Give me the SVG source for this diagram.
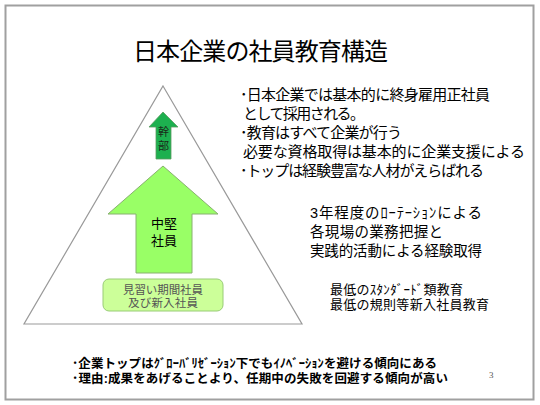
<svg xmlns="http://www.w3.org/2000/svg" width="540" height="405" viewBox="0 0 540 405">
<style>
text{font-family:"Liberation Sans","Noto Sans CJK JP","Noto Sans CJK SC",sans-serif;fill:#000}
.t{font-size:24px}
.b1{font-size:15px}
.b2{font-size:14.5px}
.b3{font-size:13px}
.b4{font-size:12.5px;font-weight:bold}
.c{text-anchor:middle}
</style>
<rect x="0" y="0" width="540" height="405" fill="#fff"/>
<rect x="5.5" y="5.5" width="528" height="394" fill="#fff" stroke="#a0a0a0" stroke-width="2"/>
<text class="t" x="133" y="60" textLength="255" lengthAdjust="spacing">日本企業の社員教育構造</text>
<g id="pyramid">
<polygon points="163,86 302,324 24,324" fill="none" stroke="#999" stroke-width="1.2"/>
</g>
<g id="kanbu">
<polygon points="163,112 178,127 171,127 171,159 156,159 156,127 149,127" fill="#1db04f" stroke="#5a9a60" stroke-width="0.8"/>
<text class="c" style="font-size:11px;fill:#1a2a1a"><tspan x="163.5" y="136">幹</tspan><tspan x="163.5" y="150">部</tspan></text>
</g>
<g id="chuken">
<polygon points="163,166 218,214 192,214 192,273 136,273 136,214 108,214" fill="#99ff66" stroke="#88b070" stroke-width="1"/>
<text class="c" style="font-size:13px"><tspan x="164" y="228">中堅</tspan><tspan x="164" y="245">社員</tspan></text>
</g>
<g id="shinnyu">
<rect x="103" y="279" width="120" height="32" rx="6" fill="#ccff99" stroke="#99cc77" stroke-width="1"/>
<text style="font-size:11.5px;fill:#555"><tspan x="123" y="294" textLength="80" lengthAdjust="spacing">見習い期間社員</tspan><tspan x="128" y="307" textLength="70" lengthAdjust="spacing">及び新入社員</tspan></text>
</g>
<g id="text-top">
<text class="b1" x="240" y="100" textLength="250" lengthAdjust="spacing">･日本企業では基本的に終身雇用正社員</text>
<text class="b1" x="243" y="119" textLength="122" lengthAdjust="spacing">として採用される。</text>
<text class="b1" x="240" y="138" textLength="162" lengthAdjust="spacing">･教育はすべて企業が行う</text>
<text class="b1" x="243" y="157" textLength="282" lengthAdjust="spacing">必要な資格取得は基本的に企業支援による</text>
<text class="b1" x="240" y="176" textLength="244" lengthAdjust="spacing">･トップは経験豊富な人材がえらばれる</text>
</g>
<g id="text-mid">
<text class="b2" x="310" y="218" textLength="172" lengthAdjust="spacing">3年程度のﾛｰﾃｰｼｮﾝによる</text>
<text class="b2" x="310" y="237" textLength="133" lengthAdjust="spacing">各現場の業務把握と</text>
<text class="b2" x="310" y="256" textLength="172" lengthAdjust="spacing">実践的活動による経験取得</text>
</g>
<g id="text-low">
<text class="b3"><tspan x="330" y="293.5" textLength="133" lengthAdjust="spacing">最低のｽﾀﾝﾀﾞｰﾄﾞ類教育</tspan><tspan x="330" y="308.5" textLength="159" lengthAdjust="spacing">最低の規則等新入社員教育</tspan></text>
</g>
<g id="text-bottom">
<text class="b4"><tspan x="72" y="368" textLength="365" lengthAdjust="spacing">･企業トップはｸﾞﾛｰﾊﾞﾘｾﾞｰｼｮﾝ下でもｲﾉﾍﾞｰｼｮﾝを避ける傾向にある</tspan><tspan x="72" y="383" textLength="376" lengthAdjust="spacing">･理由:成果をあげることより、任期中の失敗を回避する傾向が高い</tspan></text>
</g>
<text x="489" y="378" style="font-family:'Liberation Serif',serif;font-size:9px;fill:#555">3</text>
<g id="connectors"></g>
</svg>
